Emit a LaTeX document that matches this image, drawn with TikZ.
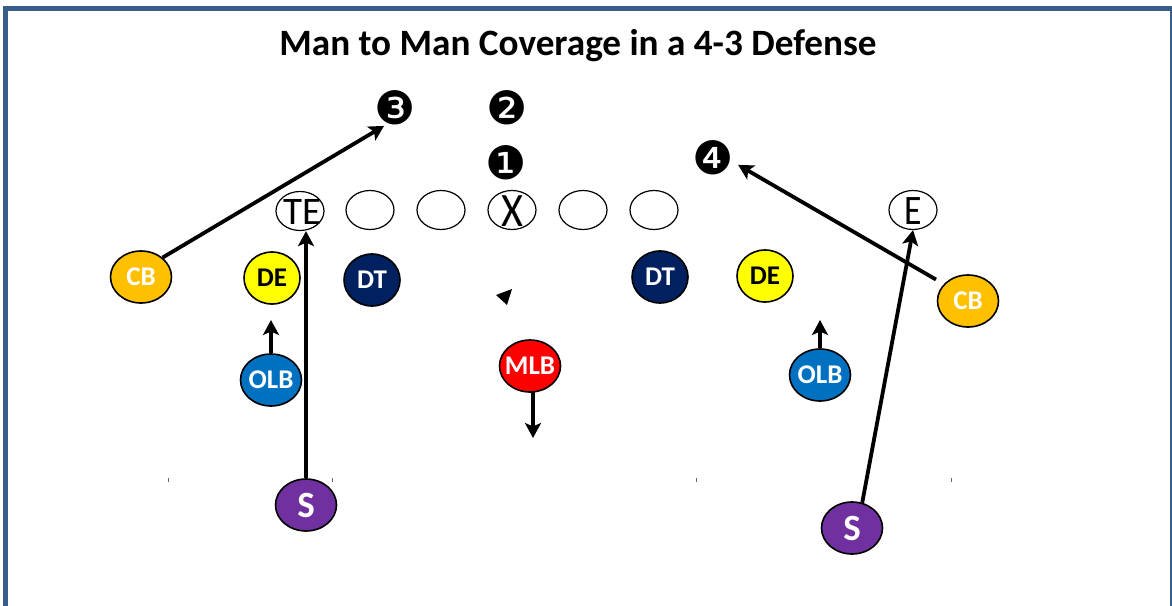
\documentclass[tikz,border=0pt]{standalone}
\usepackage{fontspec}
\usepackage{graphicx}
\setmainfont{Carlito}
\newfontfamily\dingfont{DejaVu Sans}
\usetikzlibrary{arrows.meta,shapes.geometric}
\definecolor{frameblue}{HTML}{385D8A}
\definecolor{cbc}{HTML}{FFC000}
\definecolor{dec}{HTML}{FFFF00}
\definecolor{dtc}{HTML}{002060}
\definecolor{olbc}{HTML}{0070C0}
\definecolor{mlbc}{HTML}{FF0000}
\definecolor{sc}{HTML}{7030A0}
\newcommand{\lbl}[1]{\makebox[0pt]{\raisebox{-1.5pt}{#1}}}
\newcommand{\linelbl}[2]{\makebox[0pt]{\raisebox{#1}[0pt][0pt]{#2}}}
\tikzset{
  x=1pt,y=-1pt,
  player/.style={ellipse,draw=black,line width=1.6pt,inner sep=0pt,font=\fontsize{27}{27}\selectfont\bfseries},
  cbp/.style={player,fill=cbc,text=white,minimum width=61pt,minimum height=52pt},
  dep/.style={player,fill=dec,text=black,minimum width=56pt,minimum height=52pt},
  dtp/.style={player,fill=dtc,text=white,minimum width=56pt,minimum height=52pt},
  olbp/.style={player,fill=olbc,text=white,minimum width=61pt,minimum height=52pt},
  mlbp/.style={player,fill=mlbc,text=white,minimum width=61pt,minimum height=52pt},
  sp/.style={player,fill=sc,text=white,minimum width=61pt,minimum height=52pt,font=\fontsize{37}{37}\selectfont\bfseries},
  lineman/.style={ellipse,draw=black,line width=1.2pt,fill=white,inner sep=0pt,minimum width=48pt,minimum height=39pt,font=\fontsize{39}{39}\selectfont},
  numbered/.style={inner sep=0pt,font=\dingfont\fontsize{46}{46}\selectfont},
  route/.style={draw=black,line width=3.8pt,-{Stealth[length=15pt,width=16pt,inset=3.5pt]}},
  tick/.style={draw=black!60,line width=0.8pt},
}
\begin{document}
\begin{tikzpicture}
\useasboundingbox (0,0) rectangle (1172,605);
\fill[white] (0,0) rectangle (1172,605);
\draw[frameblue,line width=5.5pt] (5.5,620) -- (5.5,8.5) -- (1172.5,8.5);
\draw[frameblue,line width=3pt] (1171.5,8.5) -- (1171.5,620);
\node[font=\fontsize{37.2}{37.2}\selectfont\bfseries] (title) at (578,46) {Man to Man Coverage in a 4-3 Defense};

\node[numbered] (n3) at (395,108) {❸};
\node[numbered] (n2) at (507,108) {❷};
\node[numbered] (n1) at (506,163) {❶};
\node[numbered] (n4) at (713,158) {❹};

\node[lineman] (te) at (300,211) {\hspace{5pt}\linelbl{-13pt}{TE}};
\node[lineman] (l1) at (370,210) {};
\node[lineman] (l2) at (441,210) {};
\node[lineman] (x) at (512,210) {\fontsize{48}{48}\selectfont\linelbl{-16pt}{\scalebox{0.88}[1]{X}}};
\node[lineman] (l3) at (583,210) {};
\node[lineman] (l4) at (654,210) {};
\node[lineman] (e) at (913,210) {\fontsize{42}{42}\selectfont\linelbl{-14pt}{\scalebox{0.85}[1]{E}}};

\node[cbp] (cbl) at (141,277) {\lbl{CB}};
\node[dep] (del) at (272,278) {\lbl{DE}};
\node[dtp] (dtl) at (372,280) {\lbl{DT}};
\node[dtp] (dtr) at (660,277) {\lbl{DT}};
\node[dep] (der) at (765,276) {\lbl{DE}};
\node[cbp] (cbr) at (968,301) {\lbl{CB}};
\node[olbp] (olbl) at (271,380) {\lbl{OLB}};
\node[olbp] (olbr) at (820,375) {\lbl{OLB}};
\node[mlbp] (mlb) at (530,366) {\lbl{MLB}};
\node[sp] (sl) at (306,505) {\lbl{S}};
\node[sp] (sr) at (852,528) {\lbl{S}};

\coordinate (olblend) at (271,320);
\coordinate (olbrend) at (820,320);
\coordinate (mlbend) at (533,438);
\coordinate (mlbstart) at (533,391);

\draw[route,shorten >=1pt] (cbl.42) -- (n3.240);
\draw[route,shorten <=9pt,shorten >=5pt] (cbr.145) -- (n4.-12);
\draw[route] (sl.north) -- (sl.north |- te.south);
\draw[route] (sr.68) -- (e.south);
\draw[route] (olbl.north) -- (olblend);
\draw[route] (olbr.north) -- (olbrend);
\draw[route] (mlbstart) -- (mlbend);

\fill[black] (496,295) -- (512,289) -- (507,305) -- cycle;

\draw[tick] (168.5,478) -- (168.5,482);
\draw[tick] (332.5,478) -- (332.5,482);
\draw[tick] (696.5,478) -- (696.5,482);
\draw[tick] (951.5,478) -- (951.5,482);
\end{tikzpicture}
\end{document}
